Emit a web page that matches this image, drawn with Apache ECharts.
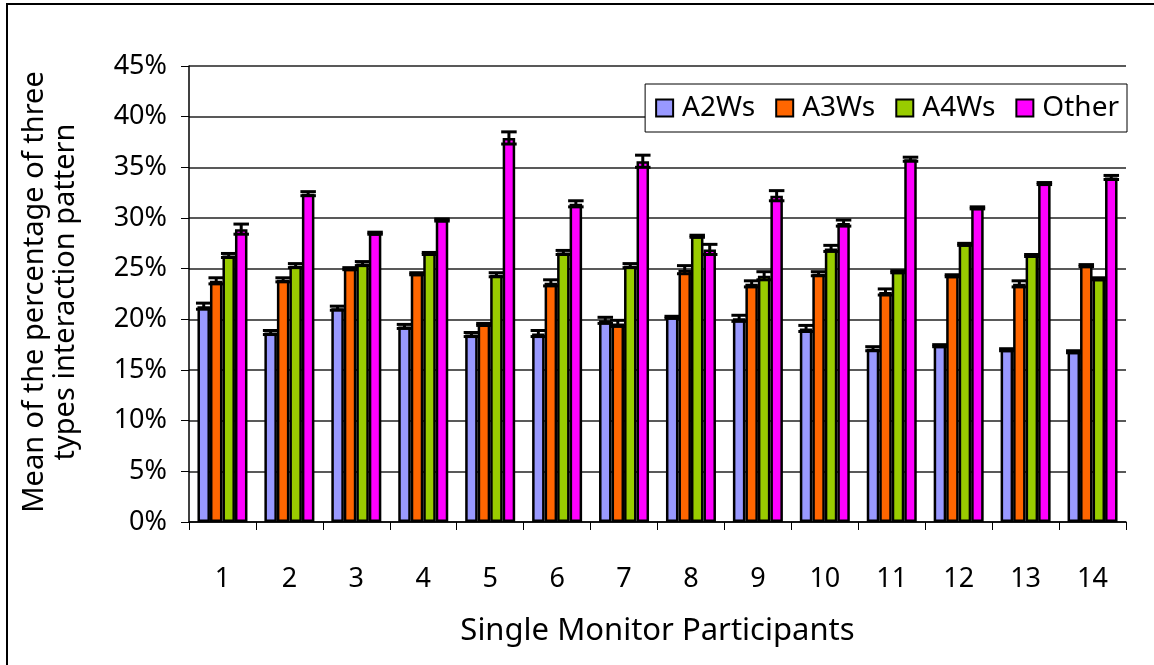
<!DOCTYPE html>
<html>
<head>
<meta charset="utf-8">
<script src="https://cdn.jsdelivr.net/npm/echarts@6/dist/echarts.min.js"></script>
<style>
  html, body { margin: 0; padding: 0; background: #fff; }
  #chart { width: 1154px; height: 665px; }
</style>
</head>
<body>
<div id="chart"></div>
<script>
// participants 1..14
const participants = ['1','2','3','4','5','6','7','8','9','10','11','12','13','14']
const seriesNames = ['A2Ws', 'A3Ws', 'A4Ws', 'Other']
const seriesColors = ['#9999FF', '#FF6600', '#99CC00', '#FF00FF']

// mean percentages (%)
const a2Ws = [21.3, 18.7, 21.1, 19.3, 18.5, 18.6, 19.9, 20.2, 20.1, 19.1, 17.1, 17.4, 17.0, 16.8]
const a3Ws = [23.8, 23.9, 25.0, 24.5, 19.5, 23.6, 19.6, 24.9, 23.5, 24.5, 22.7, 24.3, 23.5, 25.3]
const a4Ws = [26.3, 25.3, 25.5, 26.5, 24.4, 26.6, 25.3, 28.2, 24.3, 27.0, 24.7, 27.4, 26.3, 24.0]
const other = [28.9, 32.4, 28.5, 29.8, 37.9, 31.4, 35.6, 26.9, 32.2, 29.5, 35.8, 31.0, 33.4, 34.0]

// error (+/-) in %
const a2WsErr = [0.3, 0.2, 0.2, 0.2, 0.2, 0.3, 0.3, 0.1, 0.3, 0.3, 0.2, 0.1, 0.1, 0.1]
const a3WsErr = [0.3, 0.2, 0.1, 0.1, 0.1, 0.3, 0.3, 0.4, 0.3, 0.2, 0.3, 0.1, 0.3, 0.1]
const a4WsErr = [0.2, 0.2, 0.2, 0.1, 0.2, 0.2, 0.2, 0.1, 0.4, 0.3, 0.1, 0.1, 0.1, 0.1]
const otherErr = [0.5, 0.2, 0.1, 0.1, 0.6, 0.3, 0.6, 0.5, 0.5, 0.3, 0.2, 0.1, 0.1, 0.2]

const yTicks = { min: 0, max: 45, interval: 5 }

const values = [a2Ws, a3Ws, a4Ws, other]
const errors = [a2WsErr, a3WsErr, a4WsErr, otherErr]

const FONT = 'Noto Sans'
const BAR_W = 12.5

const chart = echarts.init(document.getElementById('chart'))

const barSeries = values.map((vals, i) => ({
    name: seriesNames[i],
    type: 'bar',
    data: vals,
    barWidth: BAR_W,
    barGap: '0%',
    itemStyle: { color: seriesColors[i], borderColor: '#000', borderWidth: 2.5 },
    z: 2
}))

// error bars drawn on top of each bar
const errSeries = values.map((vals, i) => ({
    type: 'custom',
    name: seriesNames[i] + ' err',
    data: vals.map((v, k) => [k, v, errors[i][k]]),
    z: 5,
    silent: true,
    renderItem: function (params, api) {
        const k = api.value(0)
        const hi = api.coord([k, api.value(1) + api.value(2)])
        const lo = api.coord([k, api.value(1) - api.value(2)])
        const x = hi[0] + (i - 1.5) * BAR_W
        const half = BAR_W / 2 + 1.5
        const st = { stroke: '#000', lineWidth: 3 }
        return {
            type: 'group',
            children: [
                { type: 'line', shape: { x1: x, y1: hi[1], x2: x, y2: lo[1] }, style: st },
                { type: 'line', shape: { x1: x - half, y1: hi[1], x2: x + half, y2: hi[1] }, style: st },
                { type: 'line', shape: { x1: x - half, y1: lo[1], x2: x + half, y2: lo[1] }, style: st }
            ]
        }
    }
}))

const option = {
    animation: false,
    backgroundColor: '#fff',
    textStyle: { fontFamily: FONT },
    grid: { left: 189, right: 28, top: 66, bottom: 143 },
    legend: {
        data: seriesNames,
        right: 27,
        top: 84,
        orient: 'horizontal',
        backgroundColor: '#fff',
        borderColor: '#000',
        borderWidth: 1,
        borderRadius: 0,
        padding: [10, 8, 10, 10],
        itemWidth: 17,
        itemHeight: 17,
        itemGap: 20,
        icon: 'rect',
        itemStyle: { borderColor: '#000', borderWidth: 2 },
        textStyle: { fontSize: 28, color: '#000', fontFamily: FONT, padding: [0, 0, 0, 4] }
    },
    xAxis: {
        type: 'category',
        data: participants,
        name: 'Single Monitor Participants',
        nameLocation: 'middle',
        nameGap: 94,
        nameTextStyle: { fontSize: 31, color: '#000', fontFamily: FONT },
        axisLine: { lineStyle: { color: '#000', width: 1.5 } },
        axisTick: { show: true, length: 8, lineStyle: { color: '#000' } },
        axisLabel: { fontSize: 27, color: '#000', margin: 44, fontFamily: FONT },
        splitLine: { show: false }
    },
    yAxis: {
        type: 'value',
        min: yTicks.min,
        max: yTicks.max,
        interval: yTicks.interval,
        axisLine: { show: true, lineStyle: { color: '#000', width: 1.5 } },
        axisTick: { show: true, length: 8, lineStyle: { color: '#000' } },
        axisLabel: { fontSize: 27, color: '#000', margin: 22, formatter: '{value}%', fontFamily: FONT },
        splitLine: { show: true, lineStyle: { color: '#222', width: 1.5 } }
    },
    graphic: [
        {
            type: 'rect',
            shape: { x: 7, y: 4, width: 1160, height: 680 },
            style: { fill: 'none', stroke: '#000', lineWidth: 2 },
            silent: true
        },
        {
            type: 'text',
            x: 50,
            y: 292,
            rotation: Math.PI / 2,
            style: {
                text: 'Mean of the percentage of three\ntypes interaction pattern',
                fontSize: 29,
                lineHeight: 31,
                fontFamily: FONT,
                fill: '#000',
                textAlign: 'center',
                textVerticalAlign: 'middle'
            }
        }
    ],
    series: barSeries.concat(errSeries)
}

chart.setOption(option)
</script>
</body>
</html>
